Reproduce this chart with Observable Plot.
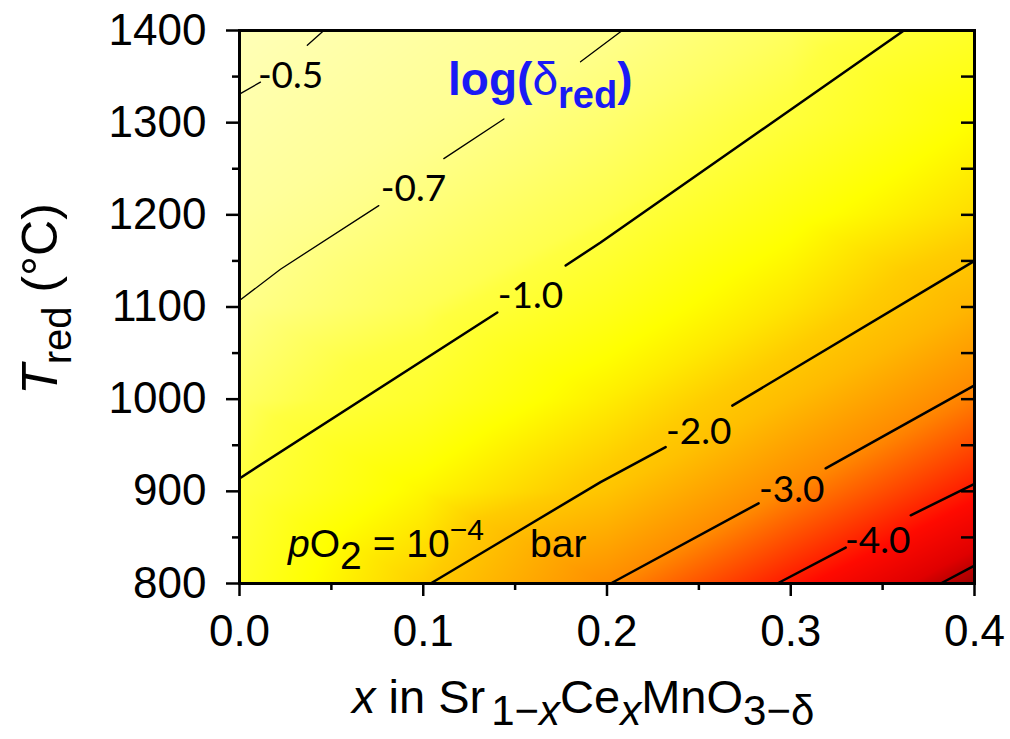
<!DOCTYPE html>
<html><head><meta charset="utf-8">
<script src="https://cdn.jsdelivr.net/npm/d3@7"></script>
<script src="https://cdn.jsdelivr.net/npm/@observablehq/plot@0.6"></script>
<style>
body{margin:0;background:#fff;}
svg{display:block;}
</style>
</head><body><div id="chart"></div>
<script>
// grid of log(delta_red) values
const gridX = [0, 0.1, 0.2, 0.3, 0.4];
const gridT = [800, 900, 1000, 1100, 1200, 1300, 1400];
const gridLogDelta = [
  [-1.19, -1.02, -0.86, -0.71, -0.61, -0.53, -0.45],
  [-1.98, -1.58, -1.17, -0.915, -0.78, -0.653, -0.57],
  [-2.98, -2.12, -1.67, -1.29, -0.965, -0.82, -0.69],
  [-4.08, -3.05, -2.25, -1.76, -1.40, -1.05, -0.88],
  [-5.2, -4.09, -3.14, -2.37, -1.84, -1.50, -1.18]
];

// contour lines (x, T) with NaN = break behind labels
const levelNames = ["-0.5", "-0.7", "-1.0", "-2.0", "-3.0", "-4.0", "-5.0"];
const c05X = [0, 0.0114, NaN, 0.0369, 0.0459];
const c05T = [1331, 1344, NaN, 1384, 1400];
const c07X = [0, 0.0223, 0.0758, NaN, 0.1112, 0.1439, NaN, 0.1856, 0.2083];
const c07T = [1107, 1141, 1210, NaN, 1261, 1304, NaN, 1366, 1400];
const c10X = [0, 0.1403, NaN, 0.1775, 0.1965, 0.3616];
const c10T = [914, 1094, NaN, 1145, 1170, 1400];
const c20X = [0.104, 0.1965, 0.2319, NaN, 0.2682, 0.4];
const c20T = [800, 910, 948, NaN, 993, 1150];
const c30X = [0.202, 0.2825, NaN, 0.319, 0.4];
const c30T = [800, 887, NaN, 925, 1015];
const c40X = [0.2927, 0.3299, NaN, 0.3653, 0.4];
const c40T = [800, 839, NaN, 874, 908];
const c50X = [0.3816, 0.4];
const c50T = [800, 819.5];

// contour labels
const labelText = ["-0.5", "-0.7", "-1.0", "-2.0", "-3.0", "-4.0"];
const labelX = [0.0278, 0.0947, 0.1584, 0.2499, 0.3005, 0.3473];
const labelT = [1351, 1228, 1112, 964, 901, 846];

// ticks
const yMajor = [800, 900, 1000, 1100, 1200, 1300, 1400];
const yMinor = [850, 950, 1050, 1150, 1250, 1350];
const xMajor = [0, 0.1, 0.2, 0.3, 0.4];
const xMinor = [0.05, 0.15, 0.25, 0.35];

// annotations (data coordinates)
const titlePos = [0.1138, 1329.5];
const pO2Pos = [0.0267, 828];
const barPos = [0.1584, 828];

// color stops
const colorDomain = [-5.3, -4.8, -4.2, -3.0, -2.0, -1.5, -1.0, -0.7, -0.4];
const colorRange = ["#8b0000", "#e00000", "#ff0a00", "#ff8c00", "#ffcc00", "#ffff00", "#ffff40", "#ffff8c", "#ffffc0"];

const gridRows = [];
gridX.forEach((x, i) => gridT.forEach((T, j) => gridRows.push({x, T, v: gridLogDelta[i][j]})));

const allX = [c05X, c07X, c10X, c20X, c30X, c40X, c50X];
const allT = [c05T, c07T, c10T, c20T, c30T, c40T, c50T];
const thinRows = [], thickRows = [];
allX.forEach((xs, k) => {
  xs.forEach((x, i) => {
    const r = {level: levelNames[k], x, T: allT[k][i]};
    (k < 2 ? thinRows : thickRows).push(r);
  });
});
const labelRows = labelText.map((t, i) => ({t, x: labelX[i], T: labelT[i]}));

const FONT = "'Liberation Sans', Arial, sans-serif";

const plot = Plot.plot({
  width: 1010,
  height: 739,
  marginLeft: 239,
  marginRight: 36,
  marginTop: 30,
  marginBottom: 156,
  style: {fontFamily: FONT, color: "black", background: "white"},
  x: {domain: [0, 0.4]},
  y: {domain: [800, 1400]},
  color: {type: "linear", domain: colorDomain, range: colorRange},
  marks: [
    Plot.raster(gridRows, {x: "x", y: "T", fill: "v", interpolate: "barycentric", x1: 0, x2: 0.4, y1: 800, y2: 1400}),
    Plot.line(thinRows, {x: "x", y: "T", z: "level", stroke: "black", strokeWidth: 1.3}),
    Plot.line(thickRows, {x: "x", y: "T", z: "level", stroke: "black", strokeWidth: 2.5}),
    Plot.text(labelRows, {x: "x", y: "T", text: "t", fontSize: 37, fontFamily: "Lato, 'Open Sans', sans-serif", fill: "black"}),
    Plot.frame({stroke: "black", strokeWidth: 3}),
    Plot.axisY(yMajor, {anchor: "left", tickSize: 13, tickPadding: 20, strokeWidth: 2.5, fontSize: 44, tickFormat: d => String(d), label: null}),
    Plot.axisY(yMinor, {anchor: "left", tickSize: 7, strokeWidth: 2.5, text: null, label: null}),
    Plot.axisY([...yMajor, ...yMinor], {anchor: "right", tickSize: 14, dx: -14, strokeWidth: 2.5, text: null, label: null}),
    Plot.axisX(xMajor, {anchor: "bottom", tickSize: 13, tickPadding: 18, strokeWidth: 2.5, fontSize: 44, tickFormat: d3.format(".1f"), label: null}),
    Plot.axisX(xMinor, {anchor: "bottom", tickSize: 7, strokeWidth: 2.5, text: null, label: null})
  ]
});

document.getElementById("chart").appendChild(plot);

const xs = plot.scale("x"), ys = plot.scale("y");
const svg = d3.select(plot);

// Title log(δ_red)
const title = svg.append("text")
  .attr("x", xs.apply(titlePos[0])).attr("y", ys.apply(titlePos[1]))
  .attr("text-anchor", "start")
  .attr("font-family", FONT).attr("font-weight", "bold").attr("font-size", 46).attr("fill", "#1a1af5");
title.append("tspan").text("log(");
title.append("tspan").attr("font-weight", "normal").text("δ");
title.append("tspan").attr("font-size", 38).attr("dy", 13).text("red");
title.append("tspan").attr("dy", -13).text(")");

// pO2 annotation
const ann = svg.append("text")
  .attr("x", xs.apply(pO2Pos[0])).attr("y", ys.apply(pO2Pos[1]))
  .attr("text-anchor", "start")
  .attr("font-family", FONT).attr("font-size", 39).attr("fill", "black");
ann.append("tspan").attr("font-style", "italic").text("p");
ann.append("tspan").text("O");
ann.append("tspan").attr("dy", 12).text("2");
ann.append("tspan").attr("dy", -12).text(" = 10");
ann.append("tspan").attr("dy", -17).attr("font-size", 30).text("\u22124");
svg.append("text")
  .attr("x", xs.apply(barPos[0])).attr("y", ys.apply(barPos[1]))
  .attr("text-anchor", "start")
  .attr("font-family", FONT).attr("font-size", 39).attr("fill", "black").text("bar");

// Y axis title
const yt = svg.append("text")
  .attr("transform", "translate(57,299) rotate(-90)")
  .attr("text-anchor", "middle")
  .attr("font-family", FONT).attr("font-size", 50).attr("fill", "black");
yt.append("tspan").attr("font-style", "italic").text("T");
yt.append("tspan").attr("font-size", 40).attr("dy", 14).text("red");
yt.append("tspan").attr("dy", -14).text(" (\u00B0C)");

// X axis title
const xt = svg.append("text")
  .attr("x", 352).attr("y", 713)
  .attr("text-anchor", "start")
  .attr("font-family", FONT).attr("font-size", 47).attr("fill", "black");
xt.append("tspan").attr("font-style", "italic").text("x");
xt.append("tspan").text(" in Sr");
const s1 = xt.append("tspan").attr("font-size", 42).attr("dy", 12).attr("dx", 6);
s1.append("tspan").text("1\u2212");
s1.append("tspan").attr("font-style", "italic").text("x");
xt.append("tspan").attr("dy", -12).text("Ce");
xt.append("tspan").attr("font-size", 42).attr("dy", 12).attr("font-style", "italic").text("x");
xt.append("tspan").attr("dy", -12).text("MnO");
xt.append("tspan").attr("font-size", 42).attr("dy", 12).text("3\u2212\u03B4");
</script>
</body></html>
